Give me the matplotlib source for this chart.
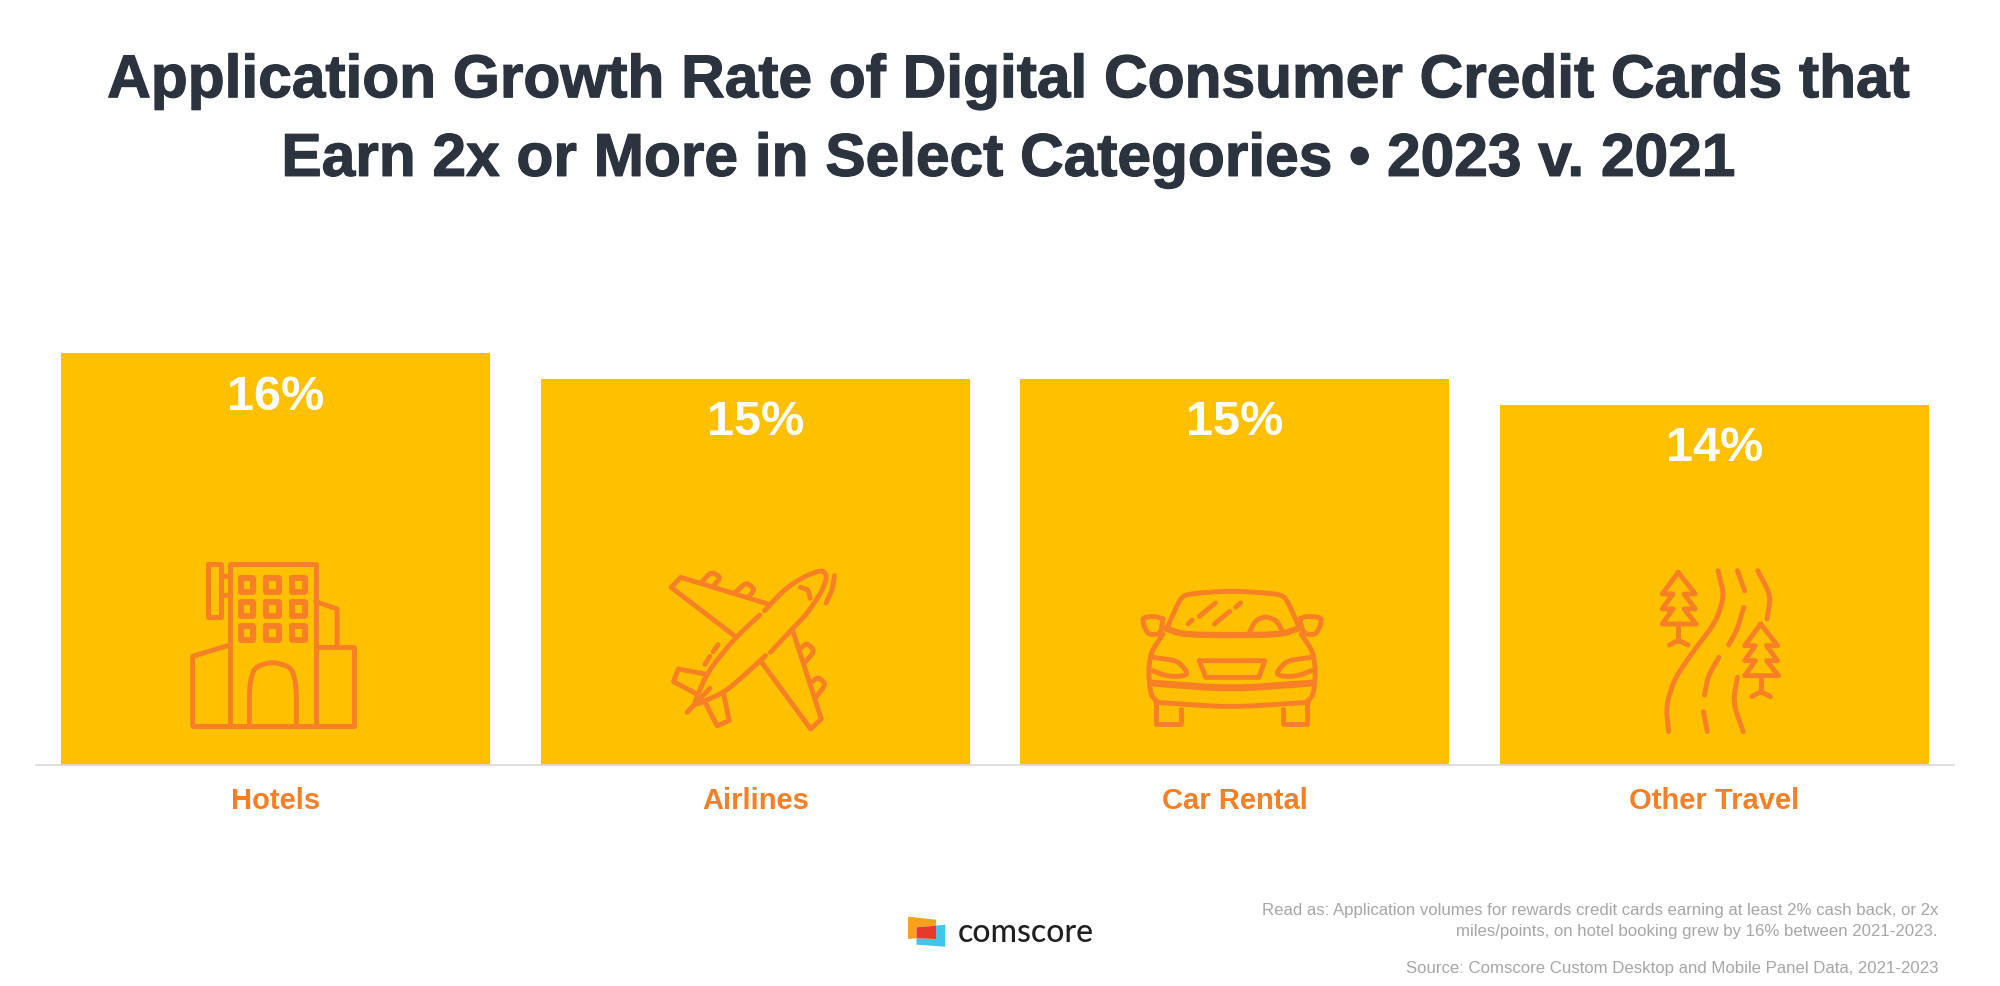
import numpy as np
import matplotlib
matplotlib.use("Agg")
import matplotlib.pyplot as plt
import matplotlib.patheffects as pe
from matplotlib.patches import Polygon

categories = ["Hotels", "Airlines", "Car Rental", "Other Travel"]
growth = [16, 15, 15, 14]

title = ("Application Growth Rate of Digital Consumer Credit Cards that\n"
         "Earn 2x or More in Select Categories \u2022 2023 v. 2021")
read_as = ("Read as: Application volumes for rewards credit cards earning at least 2% cash back, or 2x\n"
           "miles/points, on hotel booking grew by 16% between 2021-2023.")
source = "Source: Comscore Custom Desktop and Mobile Panel Data, 2021-2023"

YELLOW = "#FFC000"
ORANGE = "#F77F25"
GREY = "#A6A6A6"
DARK = "#2B333F"

plt.rcParams['font.family'] = ['Liberation Sans', 'DejaVu Sans']

fig = plt.figure(figsize=(20, 9.87), dpi=100)

# bars, axes placed so the baseline sits where it does in the picture
ax = fig.add_axes([36 / 2000, (987 - 766) / 987, 1918 / 2000, 412 / 987])
x = np.arange(len(categories))
ax.bar(x, growth, width=0.894, color=YELLOW)
ax.set_xlim(-0.5, 3.5)
ax.set_ylim(0, 16)
ax.set_yticks([])
ax.set_xticks(x, categories, fontsize=21, fontweight="bold", color=ORANGE)
ax.tick_params(axis="x", length=0, pad=15)
for s in ["top", "left", "right"]:
    ax.spines[s].set_visible(False)
ax.spines["bottom"].set_color("#D9D9D9")
ax.spines["bottom"].set_linewidth(1.2)
ax.patch.set_alpha(0)
for i, v in zip(x, growth):
    ax.annotate(f"{v}%", (i, v), xytext=(0, -43 * 72 / 100), textcoords="offset points",
                ha="center", va="center", fontsize=35, fontweight="bold", color="white")

# overlay in pixel coordinates for the icons and the logo
ov = fig.add_axes([0, 0, 1, 1])
ov.set_xlim(0, 2000)
ov.set_ylim(987, 0)
ov.axis("off")
ov.patch.set_alpha(0)


def chaikin(pts, n=2):
    pts = np.array(pts, dtype=float)
    for _ in range(n):
        q = 0.8 * pts[:-1] + 0.2 * pts[1:]
        r = 0.2 * pts[:-1] + 0.8 * pts[1:]
        mid = np.empty((len(q) * 2, 2))
        mid[0::2] = q
        mid[1::2] = r
        pts = np.vstack([pts[0], mid, pts[-1]])
    return pts


def stroke(origin, sx, pts, smooth=False, closed=False, lw=3.5):
    pts = list(pts)
    if closed:
        pts = pts + [pts[0]]
    p = chaikin(pts) if smooth else np.array(pts, dtype=float)
    ov.plot(origin[0] + p[:, 0] / sx, origin[1] + p[:, 1] / 3, color=ORANGE, lw=lw,
            solid_capstyle="round", solid_joinstyle="round")


# building
o1 = (150, 540)
sx = 2.063
for line in [
    [(88, 560), (420, 560), (420, 325), (342, 325)],
    [(88, 560), (88, 352), (165, 318)],
    [(165, 560), (165, 75), (342, 75), (342, 560)],
    [(120, 75), (147, 75), (147, 235), (120, 235), (120, 75)],
    [(147, 110), (165, 110)],
    [(147, 168), (165, 168)],
    [(342, 188), (386, 210), (386, 325)],
]:
    stroke(o1, sx, line)
stroke(o1, sx, [(205, 550), (205, 440), (215, 385), (253, 368), (292, 385), (302, 440), (302, 550)], smooth=True)
for wx in [200, 253, 306]:
    for wy in [138, 210, 282]:
        stroke(o1, sx, [(wx - 13, wy - 20), (wx + 13, wy - 20), (wx + 13, wy + 20), (wx - 13, wy + 20)],
               closed=True, lw=4.2)

# plane
for line in [
    [(1210, 295), (1075, 145), (1095, 115), (1275, 195)],
    [(1325, 270), (1385, 540), (1363, 570), (1262, 370)],
    [(1145, 405), (1090, 390), (1080, 428), (1128, 465)],
    [(1145, 490), (1170, 560), (1195, 545), (1183, 462)],
    [(1155, 448), (1108, 520)],
    [(1172, 317), (1162, 338)],
    [(1155, 352), (1145, 376)],
]:
    stroke(o1, sx, line)
for line in [
    [(1125, 485), (1150, 400), (1205, 300), (1258, 228)],
    [(1268, 215), (1310, 150), (1350, 112), (1388, 92), (1397, 115), (1385, 160), (1355, 225), (1325, 270), (1280, 340)],
    [(1270, 350), (1225, 410), (1185, 460), (1130, 495)],
    [(1138, 130), (1158, 98), (1178, 115), (1160, 145)],
    [(1208, 160), (1230, 130), (1248, 150), (1235, 175)],
    [(1345, 325), (1355, 312), (1372, 335), (1350, 372)],
    [(1365, 430), (1378, 414), (1395, 435), (1372, 478)],
    [(1342, 145), (1358, 152), (1362, 178)],
    [(1412, 110), (1408, 150), (1395, 192)],
]:
    stroke(o1, sx, line, smooth=True)

# car
o2 = (1100, 540)
for line in [
    [(135, 268), (175, 288), (370, 288), (410, 268)],
    [(140, 262), (165, 180), (180, 165), (270, 155), (370, 165), (385, 180), (410, 262)],
    [(308, 282), (320, 245), (342, 232), (365, 245), (378, 282)],
    [(130, 240), (115, 232), (88, 235), (90, 260), (100, 287), (125, 285), (130, 240)],
    [(412, 240), (425, 232), (457, 235), (455, 260), (445, 287), (420, 285), (412, 240)],
    [(130, 285), (105, 340), (100, 400), (105, 470), (120, 490)],
    [(415, 285), (440, 340), (445, 400), (440, 470), (425, 490)],
    [(108, 355), (160, 365), (182, 402), (170, 412), (140, 412), (108, 395)],
    [(437, 355), (385, 365), (363, 402), (375, 412), (405, 412), (437, 395)],
    [(115, 490), (270, 505), (430, 490)],
]:
    stroke(o2, sx, line, smooth=True)
stroke(o2, sx, [(105, 432), (270, 450), (440, 432)], smooth=True, lw=5)
stroke(o2, sx, [(135, 268), (175, 288), (370, 288), (410, 268)], smooth=True, lw=4.5)
for line in [
    [(182, 255), (190, 243)],
    [(205, 232), (238, 192)],
    [(236, 255), (268, 217)],
    [(280, 205), (290, 192)],
    [(115, 495), (115, 555), (168, 555), (168, 510)],
    [(378, 510), (378, 555), (428, 555), (428, 495)],
]:
    stroke(o2, sx, line)
stroke(o2, sx, [(205, 365), (340, 365), (328, 415), (218, 415)], closed=True)

# road and trees
tree = [(1193, 100), (1160, 165), (1182, 165), (1160, 210), (1182, 210), (1160, 255),
        (1230, 255), (1205, 210), (1228, 210), (1205, 165), (1228, 165)]
for dx, dy in [(0, 0), (170, 155)]:
    stroke(o2, sx, [(a + dx, b + dy) for a, b in tree], closed=True)
    stroke(o2, sx, [(1193 + dx, 258 + dy), (1193 + dx, 305 + dy)])
    stroke(o2, sx, [(1175 + dx, 318 + dy), (1193 + dx, 303 + dy), (1213 + dx, 318 + dy)], smooth=True)
for line in [
    [(1275, 95), (1288, 170), (1270, 250), (1225, 335), (1185, 420), (1168, 500), (1173, 578)],
    [(1315, 95), (1330, 155)],
    [(1328, 205), (1315, 270), (1297, 318)],
    [(1277, 355), (1255, 410), (1247, 468)],
    [(1245, 518), (1253, 578)],
    [(1357, 95), (1384, 170), (1376, 240)],
    [(1315, 415), (1306, 490), (1327, 578)],
]:
    stroke(o2, sx, line, smooth=True)

# logo
o3 = (880, 880)
lx = 1.425


def logo_poly(pts, color):
    p = np.array(pts, dtype=float)
    p[:, 0] = o3[0] + p[:, 0] / lx
    p[:, 1] = o3[1] + p[:, 1] / 3
    ov.add_patch(Polygon(p, closed=True, fc=color, ec="none"))


logo_poly([(40, 113), (80, 122), (80, 140), (52, 145), (52, 178), (40, 180)], "#F9A11B")
logo_poly([(52, 145), (93, 137), (93, 203), (52, 197), (52, 178), (80, 180), (80, 140)], "#3FC6E8")
logo_poly([(52, 145), (80, 140), (80, 180), (52, 178)], "#E8392F")
ov.text(958, 933, "comscore", family=["Lato", "DejaVu Sans"], fontsize=23, color="#1F1F1F",
        ha="left", va="center", fontweight="medium")

# texts
t = fig.text(1008 / 2000, 1 - 122 / 987, title, ha="center", va="center", fontsize=43.5, fontweight="bold",
             color=DARK, linespacing=1.55)
t.set_path_effects([pe.withStroke(linewidth=0.9, foreground=DARK)])
ov.text(1938, 921, read_as, ha="right", va="center", fontsize=12.05, color=GREY, linespacing=1.45)
ov.text(1938, 968, source, ha="right", va="center", fontsize=12.05, color=GREY)

fig.savefig("out.png", dpi=100)
